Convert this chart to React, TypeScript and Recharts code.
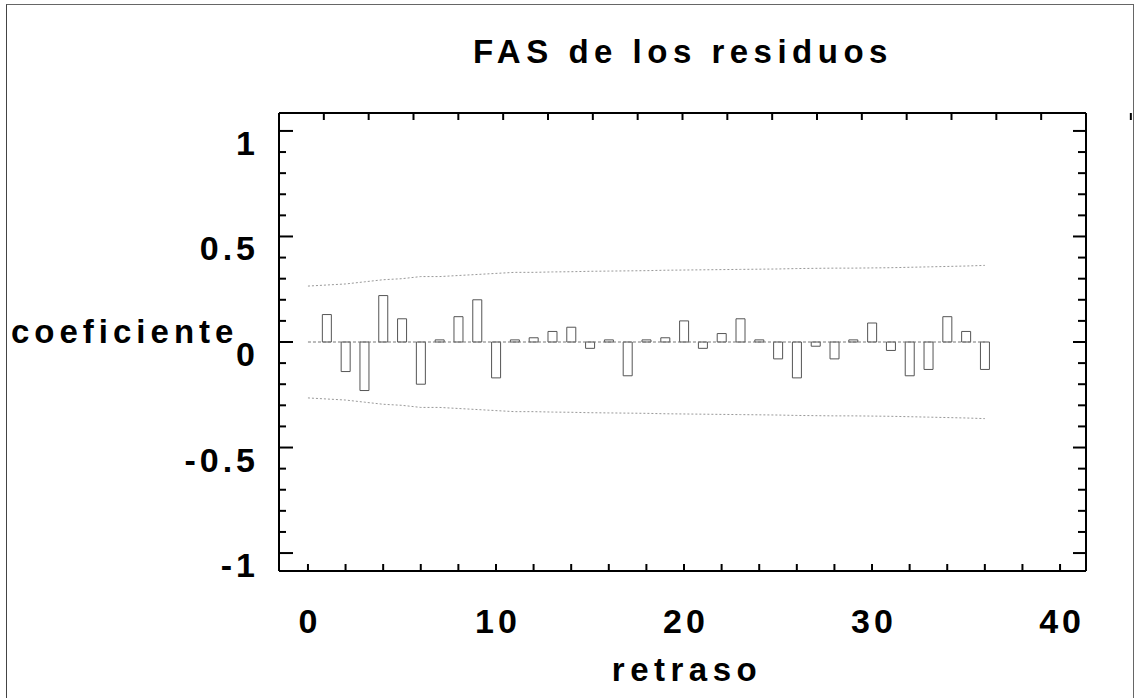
import { Bar, ComposedChart, Line, ReferenceLine, XAxis, YAxis } from "recharts";

const LAGS = [0, 1, 2, 3, 4, 5, 6, 7, 8, 9, 10, 11, 12, 13, 14, 15, 16, 17, 18, 19, 20, 21, 22, 23, 24, 25, 26, 27, 28, 29, 30, 31, 32, 33, 34, 35, 36];
const ACF = [null, 0.13, -0.14, -0.23, 0.22, 0.11, -0.2, 0.01, 0.12, 0.2, -0.17, 0.01, 0.02, 0.05, 0.07, -0.03, 0.01, -0.16, 0.01, 0.02, 0.1, -0.03, 0.04, 0.11, 0.01, -0.08, -0.17, -0.02, -0.08, 0.01, 0.09, -0.04, -0.16, -0.13, 0.12, 0.05, -0.13];
const BAND = [0.265, 0.27, 0.275, 0.285, 0.295, 0.3, 0.31, 0.31, 0.315, 0.32, 0.325, 0.33, 0.33, 0.332, 0.333, 0.335, 0.336, 0.337, 0.338, 0.34, 0.341, 0.342, 0.343, 0.344, 0.345, 0.346, 0.348, 0.349, 0.35, 0.35, 0.351, 0.352, 0.354, 0.356, 0.358, 0.36, 0.363];

const X_TICKS = [0, 2, 4, 6, 8, 10, 12, 14, 16, 18, 20, 22, 24, 26, 28, 30, 32, 34, 36, 38, 40];
const X_LABELS = [0, 10, 20, 30, 40];
const Y_TICKS = [-1, -0.9, -0.8, -0.7, -0.6, -0.5, -0.4, -0.3, -0.2, -0.1, 0, 0.1, 0.2, 0.3, 0.4, 0.5, 0.6, 0.7, 0.8, 0.9, 1];
const Y_LABELS = [-1, -0.5, 0, 0.5, 1];

const data = LAGS.map((lag, i) => ({ lag, acf: ACF[i], upper: BAND[i], lower: -BAND[i] }));

const FONT = "Arial, 'Liberation Sans', sans-serif";
const tickFont = { fontFamily: FONT, fontWeight: 700, fontSize: 34, letterSpacing: 4, fill: "#000" };
const titleFont = { fontFamily: FONT, fontWeight: 700, fontSize: 33, letterSpacing: 5.5, fill: "#000" };

// the frame's ticks point inward, so tick lines are drawn by hand
function LeftTick(props: any) {
  const { x, y, payload } = props;
  const major = Y_LABELS.includes(payload.value);
  return (
    <g>
      <line x1={x} x2={x + (major ? 14 : 7)} y1={y} y2={y} stroke="#000" strokeWidth={2} />
      {major && (
        <text x={x - 20} y={y + 24} textAnchor="end" style={tickFont}>
          {String(payload.value)}
        </text>
      )}
    </g>
  );
}

function RightTick(props: any) {
  const { x, y, payload } = props;
  const major = Y_LABELS.includes(payload.value);
  return <line x1={x} x2={x - (major ? 13 : 8)} y1={y} y2={y} stroke="#000" strokeWidth={2} />;
}

function BottomTick(props: any) {
  const { x, y, payload } = props;
  return (
    <g>
      <line x1={x} x2={x} y1={y} y2={y - 7} stroke="#000" strokeWidth={2} />
      {X_LABELS.includes(payload.value) && (
        <text x={x + 2} y={y + 62} textAnchor="middle" style={tickFont}>
          {String(payload.value)}
        </text>
      )}
    </g>
  );
}

function TopTick(props: any) {
  const { x, y } = props;
  return <line x1={x} x2={x} y1={y} y2={y + 7} stroke="#000" strokeWidth={2} />;
}

const axisLine = { stroke: "#000", strokeWidth: 2 };

export default function App() {
  return (
    <div style={{ position: "absolute", left: 0, top: 0, width: 1137, height: 698, background: "#fff", overflow: "hidden" }}>
      <div
        style={{
          position: "absolute",
          left: 6,
          top: 4,
          width: 1126,
          height: 693,
          borderLeft: "1px solid #444",
          borderTop: "1px solid #666",
          borderRight: "1px solid #666",
        }}
      />
      <ComposedChart
        width={1137}
        height={698}
        data={data}
        margin={{ top: 112, right: 50, bottom: 126, left: 278 }}
        style={{ position: "absolute", left: 0, top: 0 }}
      >
        <XAxis
          xAxisId="bottom"
          dataKey="lag"
          type="number"
          orientation="bottom"
          domain={[-1.54, 41.38]}
          allowDataOverflow
          ticks={X_TICKS}
          interval={0}
          height={1}
          tickSize={0}
          tickMargin={0}
          tickLine={false}
          axisLine={axisLine}
          tick={BottomTick}
        />
        <XAxis
          xAxisId="top"
          type="number"
          orientation="top"
          domain={[-1.54, 41.38]}
          allowDataOverflow
          ticks={X_TICKS}
          interval={0}
          height={1}
          tickSize={0}
          tickMargin={0}
          tickLine={false}
          axisLine={axisLine}
          tick={TopTick}
        />
        <YAxis
          yAxisId="left"
          type="number"
          orientation="left"
          domain={[-1.085, 1.085]}
          allowDataOverflow
          ticks={Y_TICKS}
          interval={0}
          width={1}
          tickSize={0}
          tickMargin={0}
          tickLine={false}
          axisLine={axisLine}
          tick={LeftTick}
        />
        <YAxis
          yAxisId="right"
          type="number"
          orientation="right"
          domain={[-1.085, 1.085]}
          allowDataOverflow
          ticks={Y_TICKS}
          interval={0}
          width={1}
          tickSize={0}
          tickMargin={0}
          tickLine={false}
          axisLine={axisLine}
          tick={RightTick}
        />
        <ReferenceLine
          xAxisId="bottom"
          yAxisId="left"
          segment={[
            { x: LAGS[0], y: 0 },
            { x: LAGS[LAGS.length - 1], y: 0 },
          ]}
          stroke="#777"
          strokeDasharray="3 2"
        />
        <Bar
          xAxisId="bottom"
          yAxisId="left"
          dataKey="acf"
          barSize={9}
          fill="none"
          stroke="#555"
          strokeWidth={1}
          isAnimationActive={false}
        />
        <Line
          xAxisId="bottom"
          yAxisId="left"
          dataKey="upper"
          type="linear"
          stroke="#999"
          strokeDasharray="2 2"
          strokeWidth={1}
          dot={false}
          isAnimationActive={false}
        />
        <Line
          xAxisId="bottom"
          yAxisId="left"
          dataKey="lower"
          type="linear"
          stroke="#999"
          strokeDasharray="2 2"
          strokeWidth={1}
          dot={false}
          isAnimationActive={false}
        />
      </ComposedChart>
      <svg width={1137} height={698} style={{ position: "absolute", left: 0, top: 0, pointerEvents: "none" }}>
        <text x={683} y={63} textAnchor="middle" style={titleFont}>
          FAS de los residuos
        </text>
        <text x={11} y={343} textAnchor="start" style={{ ...titleFont, letterSpacing: 5 }}>
          coeficiente
        </text>
        <text x={687} y={681} textAnchor="middle" style={titleFont}>
          retraso
        </text>
      </svg>
    </div>
  );
}
